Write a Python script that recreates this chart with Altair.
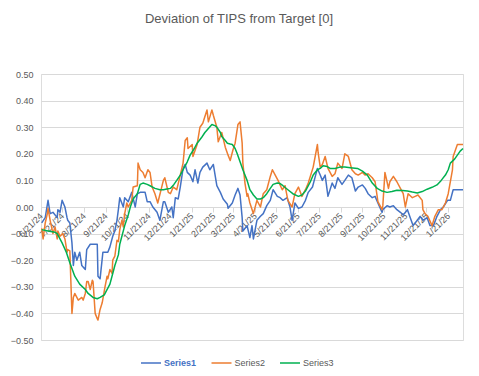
import altair as alt
import pandas as pd

title_text = "Deviation of TIPS from Target [0]"
series_names = ["Series1", "Series2", "Series3"]
series_colors = ["#4472C4", "#ED7D31", "#00B050"]
series_widths = [1.5, 1.5, 2.5]
start_date = "2024-06-21"
end_date = (2026, 2, 11)
tick_dates = [(2024, 6, 21), (2024, 7, 21), (2024, 8, 21), (2024, 9, 21), (2024, 10, 21),
              (2024, 11, 21), (2024, 12, 21), (2025, 1, 21), (2025, 2, 21), (2025, 3, 21),
              (2025, 4, 21), (2025, 5, 21), (2025, 6, 21), (2025, 7, 21), (2025, 8, 21),
              (2025, 9, 21), (2025, 10, 21), (2025, 11, 21), (2025, 12, 21), (2026, 1, 21)]
y_ticks = [-0.5, -0.4, -0.3, -0.2, -0.1, 0.0, 0.1, 0.2, 0.3, 0.4, 0.5]

# Series1 (days since start, value)
s1_day = [1, 6, 10, 13, 17, 23, 24, 27, 30, 34, 37, 38, 41, 44, 46, 48, 51, 55, 58, 63,
          65, 70, 75, 80, 81, 84, 85, 88, 95, 98, 102, 105, 108, 110, 112, 117, 119, 124, 129, 134,
          137, 141, 145, 148, 151, 155, 159, 165, 169, 174, 176, 181, 186, 188, 191, 195, 198, 202, 205, 208,
          212, 216, 219, 223, 226, 230, 236, 240, 245, 250, 255, 259, 265, 266, 272, 276, 280, 283, 286, 287,
          293, 297, 300, 302, 307, 312, 316, 321, 326, 330, 336, 340, 344, 350, 354, 357, 361, 366, 371, 376,
          380, 386, 390, 393, 397, 400, 404, 408, 414, 418, 422, 428, 432, 437, 442, 447, 451, 457, 461, 465,
          471, 475, 479, 485, 486, 492, 496, 501, 506, 511, 515, 521, 525, 529, 535, 539, 543, 549, 553, 558,
          563, 568, 572, 578, 582, 586, 592, 600]
s1_val = [-0.06, -0.04, 0.025, -0.025, -0.02, -0.04, -0.01, -0.02, 0.025, 0.0, -0.04, -0.05, -0.06, -0.135, -0.22, -0.17, -0.20, -0.17, -0.22, -0.235,
          -0.16, -0.14, -0.14, -0.14, -0.26, -0.27, -0.245, -0.17, -0.17, -0.15, -0.11, -0.09, -0.05, -0.01, 0.035, 0.0, 0.035, 0.02, 0.055, 0.0,
          0.05, 0.055, 0.055, 0.055, 0.02, 0.02, 0.0, -0.02, -0.05, 0.02, 0.02, -0.02, 0.0, -0.04, 0.035, 0.03, 0.075, 0.145, 0.16, 0.13,
          0.12, 0.095, 0.14, 0.09, 0.13, 0.15, 0.165, 0.14, 0.16, 0.08, 0.055, 0.03, 0.01, -0.005, 0.015, 0.045, 0.07, 0.045, -0.04, -0.09,
          -0.07, -0.115, -0.07, -0.12, -0.05, -0.035, -0.025, 0.005, 0.025, 0.065, 0.04, 0.035, 0.025, 0.035, 0.0, -0.05, 0.015, -0.005, 0.0, 0.025,
          0.055, 0.075, 0.115, 0.145, 0.12, 0.10, 0.12, 0.04, 0.09, 0.07, 0.11, 0.085, 0.10, 0.12, 0.11, 0.06, 0.075, 0.083, 0.07, 0.05,
          0.035, 0.04, 0.015, -0.02, -0.01, 0.005, 0.0, 0.005, -0.01, -0.02, -0.03, -0.01, -0.04, -0.07, -0.05, -0.035, -0.05, -0.04, -0.07, -0.07,
          -0.035, -0.01, 0.0, 0.025, 0.025, 0.065, 0.065, 0.065]

# Series2
s2_day = [1, 3, 6, 9, 10, 13, 17, 20, 23, 24, 27, 31, 34, 37, 38, 41, 44, 46, 48, 53,
          58, 60, 63, 65, 67, 70, 73, 74, 77, 80, 81, 84, 87, 88, 91, 94, 95, 98, 101, 102,
          105, 108, 110, 112, 115, 117, 119, 122, 124, 129, 131, 137, 138, 141, 145, 148, 152, 155, 158, 162,
          166, 174, 176, 181, 184, 188, 193, 198, 202, 205, 208, 209, 215, 216, 222, 226, 230, 236, 238, 243,
          245, 250, 252, 257, 262, 266, 269, 273, 276, 280, 283, 286, 287, 290, 293, 294, 297, 302, 307, 312,
          316, 321, 326, 329, 333, 337, 343, 347, 351, 357, 361, 366, 371, 376, 380, 387, 393, 394, 397, 400,
          404, 408, 414, 418, 422, 428, 432, 437, 442, 447, 451, 457, 461, 465, 471, 475, 479, 485, 486, 489,
          492, 494, 496, 501, 506, 511, 515, 518, 522, 528, 532, 536, 542, 543, 546, 550, 556, 560, 565, 570,
          575, 579, 585, 586, 592, 600]
s2_val = [-0.08, -0.12, -0.06, -0.025, -0.005, -0.05, -0.10, -0.075, -0.12, -0.09, -0.11, -0.10, -0.12, -0.17, -0.16, -0.165, -0.40, -0.34, -0.325, -0.35,
          -0.34, -0.35, -0.325, -0.28, -0.28, -0.31, -0.275, -0.28, -0.40, -0.42, -0.425, -0.385, -0.36, -0.345, -0.30, -0.26, -0.27, -0.235, -0.25, -0.20,
          -0.185, -0.125, -0.13, -0.085, -0.05, -0.075, -0.025, 0.015, 0.0, 0.025, 0.075, 0.08, 0.165, 0.14, 0.13, 0.11, 0.14, 0.13, 0.075, 0.05,
          0.015, 0.10, 0.11, 0.055, 0.05, 0.075, 0.065, 0.12, 0.165, 0.25, 0.26, 0.22, 0.235, 0.19, 0.235, 0.30, 0.315, 0.365, 0.32, 0.365,
          0.345, 0.30, 0.245, 0.28, 0.225, 0.195, 0.175, 0.215, 0.24, 0.31, 0.32, 0.24, 0.165, 0.09, 0.04, 0.05, 0.015, -0.025, 0.025, 0.0,
          0.05, 0.065, 0.115, 0.14, 0.12, 0.10, 0.065, 0.08, 0.025, 0.0, 0.05, 0.075, 0.04, 0.065, 0.09, 0.15, 0.235, 0.205, 0.15, 0.16,
          0.19, 0.145, 0.115, 0.125, 0.165, 0.145, 0.20, 0.19, 0.14, 0.125, 0.12, 0.13, 0.12, 0.125, 0.11, 0.095, 0.02, -0.01, 0.005, 0.13,
          0.095, 0.07, 0.095, 0.115, 0.095, 0.07, 0.05, 0.0, 0.05, 0.035, 0.04, 0.045, 0.025, -0.01, -0.025, -0.035, -0.07, -0.035, -0.01, -0.01,
          0.015, 0.05, 0.14, 0.19, 0.235, 0.235]

# Series3
s3_day = [1, 10, 20, 23, 30, 36, 41, 48, 55, 63, 67, 74, 80, 84, 90, 92, 98, 102, 105, 110,
          112, 119, 124, 127, 131, 137, 141, 145, 151, 155, 162, 169, 174, 179, 184, 189, 193, 198, 202, 208,
          212, 218, 222, 228, 233, 238, 243, 248, 250, 255, 257, 262, 265, 269, 272, 276, 279, 283, 287, 293,
          297, 302, 307, 312, 316, 321, 326, 330, 336, 340, 344, 351, 358, 366, 371, 376, 378, 383, 387, 393,
          397, 401, 407, 411, 418, 425, 432, 440, 450, 457, 464, 471, 478, 485, 492, 499, 506, 514, 521, 528,
          535, 542, 549, 556, 563, 569, 575, 579, 582, 588, 592, 596, 600]
s3_val = [-0.085, -0.09, -0.095, -0.10, -0.135, -0.17, -0.21, -0.26, -0.29, -0.31, -0.325, -0.34, -0.345, -0.34, -0.33, -0.32, -0.29, -0.25, -0.22, -0.18,
          -0.14, -0.07, -0.03, 0.0, 0.03, 0.05, 0.085, 0.09, 0.085, 0.08, 0.07, 0.065, 0.065, 0.068, 0.07, 0.085, 0.10, 0.12, 0.14, 0.17,
          0.195, 0.22, 0.24, 0.26, 0.28, 0.295, 0.31, 0.305, 0.30, 0.28, 0.265, 0.25, 0.24, 0.237, 0.235, 0.22, 0.20, 0.17, 0.14, 0.10,
          0.065, 0.045, 0.03, 0.03, 0.035, 0.05, 0.07, 0.085, 0.09, 0.088, 0.08, 0.065, 0.05, 0.04, 0.045, 0.06, 0.07, 0.095, 0.12, 0.14,
          0.145, 0.155, 0.152, 0.145, 0.145, 0.15, 0.15, 0.148, 0.145, 0.135, 0.12, 0.09, 0.07, 0.06, 0.055, 0.058, 0.063, 0.062, 0.06, 0.056,
          0.053, 0.058, 0.067, 0.074, 0.083, 0.10, 0.12, 0.14, 0.165, 0.18, 0.195, 0.21, 0.22]

start = pd.Timestamp(start_date)
frames = []
for name, days, vals in [("Series1", s1_day, s1_val), ("Series2", s2_day, s2_val), ("Series3", s3_day, s3_val)]:
    frames.append(pd.DataFrame({
        "date": [(start + pd.Timedelta(days=d)).strftime("%Y-%m-%d") for d in days],
        "value": vals,
        "series": name,
    }))
df = pd.concat(frames, ignore_index=True)

grey = "#595959"
light = "#D9D9D9"
font = "Liberation Sans"

sy, sm, sd = [int(p) for p in start_date.split("-")]
x_domain = [alt.DateTime(year=sy, month=sm, date=sd, utc=True),
            alt.DateTime(year=end_date[0], month=end_date[1], date=end_date[2], utc=True)]
x_values = [alt.DateTime(year=y, month=m, date=d, utc=True) for (y, m, d) in tick_dates]

legend = alt.Legend(
    title=None, orient="none", legendX=99, legendY=278, direction="horizontal",
    symbolType="stroke", symbolSize=400, labelFontSize=9, labelFont=font,
    labelColor=alt.ExprRef(expr="datum.label === 'Series1' ? '#4472C4' : '#595959'"),
    labelFontWeight=alt.ExprRef(expr="datum.label === 'Series1' ? 'bold' : 'normal'"),
    labelOffset=2, columnPadding=11.5,
)

chart = alt.Chart(df).mark_line(strokeJoin="round").encode(
    x=alt.X("date:T",
            scale=alt.Scale(type="utc", domain=x_domain),
            axis=alt.Axis(title=None, values=x_values,
                          labelExpr="utcFormat(datum.value, '%-m/%-d/%y')",
                          labelAngle=-45, labelAlign="right", labelBaseline="middle",
                          labelFontSize=9, labelFont=font, labelColor=grey,
                          tickColor=light, tickSize=5, domainColor=light,
                          grid=False, offset=-133, labelOverlap=False, labelFlush=False,
                          labelPadding=2)),
    y=alt.Y("value:Q",
            scale=alt.Scale(domain=[-0.5, 0.5], nice=False, zero=False),
            axis=alt.Axis(title=None, values=y_ticks, format=".2f", labelFontSize=9,
                          labelFont=font, labelColor=grey, domain=False, ticks=False,
                          gridColor=light, labelPadding=8)),
    color=alt.Color("series:N", scale=alt.Scale(domain=series_names, range=series_colors), legend=legend),
    strokeWidth=alt.StrokeWidth("series:N", scale=alt.Scale(domain=series_names, range=series_widths), legend=legend),
).properties(
    width=422, height=266,
    title=alt.TitleParams(text=title_text, fontSize=13, font=font, color=grey,
                          fontWeight="normal", anchor="middle", dx=-13, offset=44),
    autosize=alt.AutoSizeParams(type="none"),
    padding={"left": 33, "top": 66, "right": 8, "bottom": 28},
).configure_view(stroke=None).configure(background="white")

chart.save("out.html", embed_options={"renderer": "svg", "actions": False})
